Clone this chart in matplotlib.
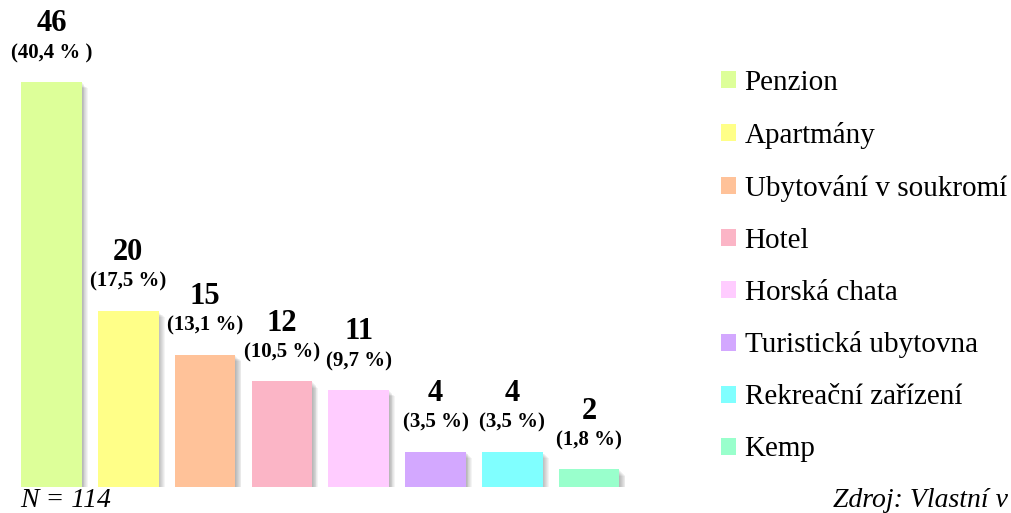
import matplotlib
matplotlib.use("Agg")
import matplotlib.pyplot as plt
from matplotlib.patches import Patch

categories = ["Penzion", "Apartmány", "Ubytování v soukromí", "Hotel",
              "Horská chata", "Turistická ubytovna", "Rekreační zařízení", "Kemp"]
counts = [46, 20, 15, 12, 11, 4, 4, 2]
pct_labels = ["(40,4 % )", "(17,5 %)", "(13,1 %)", "(10,5 %)",
              "(9,7 %)", "(3,5 %)", "(3,5 %)", "(1,8 %)"]
colors = ["#DDFF99", "#FFFF88", "#FFC299", "#FBB5C6",
          "#FFCCFF", "#D3A8FF", "#80FFFF", "#99FFCC"]

plt.rcParams["font.family"] = ["Liberation Serif", "DejaVu Serif"]

W, H = 1011, 513
fig = plt.figure(figsize=(W / 100, H / 100), dpi=100)

# axes placed in pixel terms: bars start at x~21, pitch ~77 px, base at y=487
pitch = 76.8
ax_w = 700
ax = fig.add_axes([0, (H - 487) / H, ax_w / W, 487 / H])
x0 = -51.5 / pitch
ax.set_xlim(x0, x0 + ax_w / pitch)
ax.set_ylim(0, 487 / 8.8)
ax.axis("off")

xs = list(range(len(counts)))
bw = 0.79

# soft drop shadow
for k in range(1, 8):
    dx = k * 0.011
    dy = k * 0.1
    ax.bar([x + dx for x in xs], counts, width=bw, bottom=-dy,
           color="#000000", alpha=0.045, linewidth=0, zorder=1)

ax.bar(xs, counts, width=bw, color=colors, linewidth=0, zorder=3)

for x, c, p in zip(xs, counts, pct_labels):
    ax.annotate(str(c), (x, c), xytext=(0, 42), textcoords="offset points",
                ha="center", va="center", fontsize=22, fontweight="bold", zorder=4)
    ax.annotate(p, (x, c), xytext=(0, 21), textcoords="offset points",
                ha="center", va="center", fontsize=15, fontweight="bold", zorder=4)

handles = [Patch(facecolor=col, edgecolor="none") for col in colors]
fig.legend(handles, categories, loc="upper left", bbox_to_anchor=(709 / W, 1 - 58 / H),
           frameon=False, fontsize=21, handlelength=0.52, handleheight=0.52,
           handletextpad=0.3, labelspacing=0.89, borderaxespad=0)

fig.text(20 / W, 1 - 507 / H, "N = 114", fontsize=20, style="italic",
         ha="left", va="baseline")
fig.text(1008 / W, 1 - 507 / H, "Zdroj: Vlastní v", fontsize=20, style="italic",
         ha="right", va="baseline")

fig.savefig("out.png", dpi=100)
